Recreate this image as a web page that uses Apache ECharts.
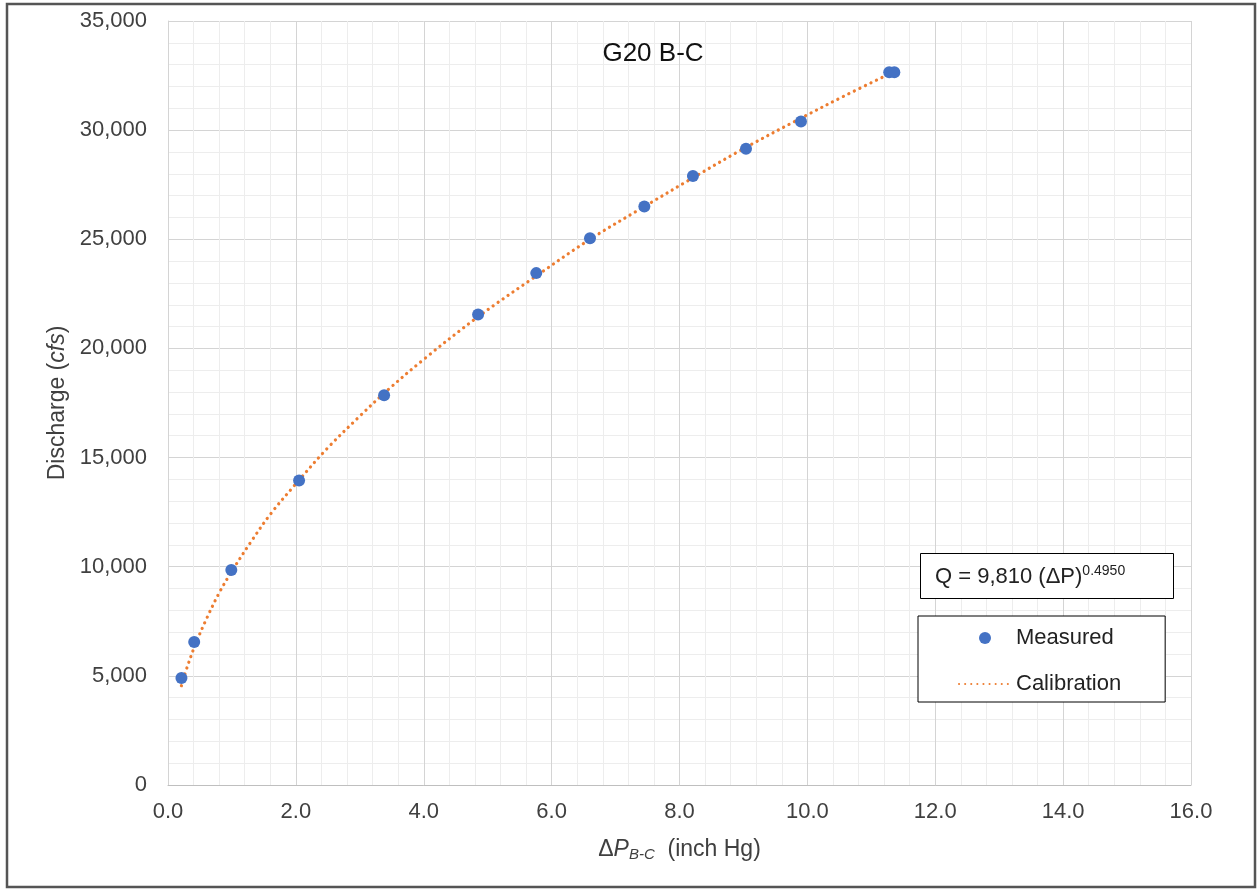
<!DOCTYPE html>
<html>
<head>
<meta charset="utf-8">
<script src="https://cdn.jsdelivr.net/npm/echarts@6/dist/echarts.min.js"></script>
<style>
html,body{margin:0;padding:0;background:#fff;}
#c{width:1257px;height:890px;}
</style>
</head>
<body>
<div id="c"></div>
<script>
// Measured points (ΔP in inch Hg, discharge in cfs)
const measuredDP = [0.21, 0.41, 0.99, 2.05, 3.38, 4.85, 5.76, 6.60, 7.45, 8.21, 9.04, 9.90, 11.28, 11.36];
const measuredQ  = [4900, 6550, 9850, 13950, 17850, 21550, 23450, 25050, 26500, 27900, 29150, 30400, 32650, 32650];
// Calibration curve
const calibDP = [0.21, 0.3, 0.43, 0.6, 0.8, 1.0, 1.3, 1.6, 2.0, 2.5, 3.0, 3.4, 4.0, 4.85, 5.75, 6.6, 7.45, 8.2, 9.0, 9.9, 10.6, 11.3];
const calibQ  = [4550, 5400, 6450, 7600, 8800, 9800, 11150, 12400, 13800, 15450, 16900, 18000, 19500, 21450, 23300, 25000, 26500, 27800, 29150, 30550, 31600, 32600];
// Axis settings
const xMin = 0, xMax = 16, xStep = 2;
const yMin = 0, yMax = 35000, yStep = 5000;
const titleText = 'G20 B-C';
const seriesNames = ['Measured', 'Calibration'];

const FONT = '"Liberation Sans", Arial, sans-serif';
const chart = echarts.init(document.getElementById('c'), null, {renderer: 'canvas'});

const option = {
  backgroundColor: '#fff',
  animation: false,
  grid: {left: 168, right: 66, top: 21, bottom: 105, containLabel: false},
  xAxis: {
    type: 'value', min: xMin, max: xMax, interval: xStep,
    axisLine: {show: true, lineStyle: {color: '#bfbfbf', width: 1}},
    axisTick: {show: false},
    axisLabel: {fontFamily: FONT, fontSize: 22, color: '#404040', margin: 16,
      formatter: v => v.toFixed(1)},
    splitLine: {show: true, lineStyle: {color: '#d4d4d4', width: 1}},
    minorTick: {show: false, splitNumber: 5},
    minorSplitLine: {show: true, lineStyle: {color: '#ededed', width: 1}},
    name: '{d|Δ}{p|P}{s|B-C}{n|  (inch Hg)}',
    nameLocation: 'middle', nameGap: 52,
    nameTextStyle: {fontFamily: FONT, color: '#404040', rich: {
      d: {fontFamily: FONT, fontSize: 23, color: '#404040'},
      p: {fontFamily: FONT, fontSize: 23, fontStyle: 'italic', color: '#404040'},
      s: {fontFamily: FONT, fontSize: 15, fontStyle: 'italic', color: '#404040', padding: [10, 0, 0, 0]},
      n: {fontFamily: FONT, fontSize: 23, color: '#404040'}
    }}
  },
  yAxis: {
    type: 'value', min: yMin, max: yMax, interval: yStep,
    axisLine: {show: true, lineStyle: {color: '#d4d4d4', width: 1}},
    axisTick: {show: false},
    axisLabel: {fontFamily: FONT, fontSize: 22, color: '#404040', margin: 21,
      formatter: v => v.toLocaleString('en-US')},
    splitLine: {show: true, lineStyle: {color: '#d4d4d4', width: 1}},
    minorTick: {show: false, splitNumber: 5},
    minorSplitLine: {show: true, lineStyle: {color: '#ededed', width: 1}},
    name: '{a|Discharge (}{i|cfs}{a|)}',
    nameLocation: 'middle', nameGap: 98,
    nameTextStyle: {fontFamily: FONT, color: '#404040', rich: {
      a: {fontFamily: FONT, fontSize: 23, color: '#404040'},
      i: {fontFamily: FONT, fontSize: 23, fontStyle: 'italic', color: '#404040'}
    }}
  },
  legend: {
    orient: 'vertical', left: 918, top: 616,
    data: [
      {name: seriesNames[0], icon: 'circle'},
      {name: seriesNames[1], itemStyle: {opacity: 0}}
    ],
    itemWidth: 52, itemHeight: 12, itemGap: 24,
    padding: [11, 44, 7, 40],
    borderColor: '#000', borderWidth: 1, backgroundColor: '#fff',
    textStyle: {fontFamily: FONT, fontSize: 22, color: '#222', padding: [0,0,0,0]}
  },
  graphic: [
    {type: 'rect', silent: true, z: -10,
      shape: {x: 7, y: 4, width: 1248, height: 883},
      style: {fill: 'none', stroke: '#555', lineWidth: 2.5}},
    {type: 'text', x: 653, y: 54, z: 10,
      style: {text: titleText, fontFamily: FONT, fontSize: 26, fill: '#111',
        align: 'center', verticalAlign: 'middle'}},
    {type: 'rect', z: 10,
      shape: {x: 920.5, y: 553.5, width: 253, height: 45},
      style: {fill: '#fff', stroke: '#000', lineWidth: 1}},
    {type: 'text', x: 935, y: 577, z: 11,
      style: {text: '{m|Q = 9,810 (ΔP)}{s|0.4950}', verticalAlign: 'middle',
        rich: {
          m: {fontFamily: FONT, fontSize: 22, fill: '#222'},
          s: {fontFamily: FONT, fontSize: 14, fill: '#222', padding: [0, 0, 12, 0]}
        }}}
  ],
  series: [
    {
      name: seriesNames[0], type: 'scatter', z: 5,
      symbol: 'circle', symbolSize: 12,
      itemStyle: {color: '#4472C4', opacity: 1},
      data: measuredDP.map((x, i) => [x, measuredQ[i]])
    },
    {
      name: seriesNames[1], type: 'line', z: 4,
      showSymbol: false, symbol: 'none', smooth: 0.35,
      lineStyle: {color: '#ED7D31', width: 3.2, type: [0.1, 6], cap: 'round'},
      itemStyle: {color: '#ED7D31'},
      data: calibDP.map((x, i) => [x, calibQ[i]])
    }
  ]
};
chart.setOption(option);
</script>
</body>
</html>
